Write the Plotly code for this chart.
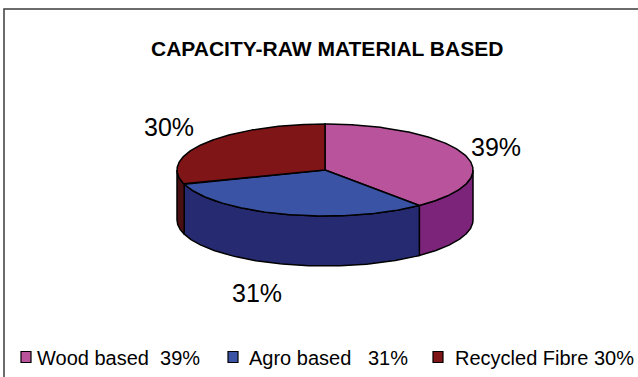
import numpy as np
import plotly.graph_objects as go

# ---------------- data ----------------
TITLE = "CAPACITY-RAW MATERIAL BASED"
CATEGORIES = ["Wood based", "Agro based", "Recycled Fibre"]
SHARES = [39, 31, 30]
SLICE_LABELS = ["39%", "31%", "30%"]
LEGEND_LABELS = ["Wood based\u00a0\u00a039%",
                 "Agro based\u00a0\u00a0\u00a031%",
                 "Recycled Fibre 30%"]

# ---------------- style ----------------
TOP_COLORS = ["#B9539C", "#3A53A4", "#801518"]
SIDE_COLORS = ["#7B2479", "#262A70", "#4A0F12"]
FONT = "Arial, Liberation Sans, sans-serif"
W, H = 638, 377
CX, CY, RX, RY, DEPTH = 325, 170, 148, 46, 50      # pie geometry (px)
LX, LY = 185, 70                                   # label ellipse
LABEL_NUDGE = [(-3, 1), (-16, 6), (-6, -2)]
LEGEND_SQ_X = [21, 228, 433]
LEGEND_TX_X = [35, 247, 453]
LEGEND_Y = 357

def pt(theta_deg, rx=RX, ry=RY):
    t = np.radians(theta_deg)
    return CX + rx * np.sin(t), CY - ry * np.cos(t)

fig = go.Figure()
total = float(sum(SHARES))
bounds = np.concatenate([[0], np.cumsum(SHARES) / total * 360.0])

# side walls (front half only: 90..270 degrees)
for i in range(len(SHARES)):
    a0, a1 = bounds[i], bounds[i + 1]
    s, e = max(a0, 90.0), min(a1, 270.0)
    if e <= s:
        continue
    th = np.linspace(s, e, 120)
    xt, yt = pt(th)
    xs = np.concatenate([xt, xt[::-1], xt[:1]])
    ys = np.concatenate([yt, (yt + DEPTH)[::-1], yt[:1]])
    fig.add_trace(go.Scatter(x=xs, y=ys, mode="lines", fill="toself",
                             fillcolor=SIDE_COLORS[i],
                             line=dict(color="black", width=1.5),
                             hoverinfo="skip", showlegend=False))

# top faces
for i in range(len(SHARES)):
    a0, a1 = bounds[i], bounds[i + 1]
    th = np.linspace(a0, a1, 160)
    xt, yt = pt(th)
    xs = np.concatenate([[CX], xt, [CX]])
    ys = np.concatenate([[CY], yt, [CY]])
    fig.add_trace(go.Scatter(x=xs, y=ys, mode="lines", fill="toself",
                             fillcolor=TOP_COLORS[i],
                             line=dict(color="black", width=1.5),
                             name=CATEGORIES[i],
                             hoverinfo="skip", showlegend=False))

annotations = []
# percentage labels
for i in range(len(SHARES)):
    mid = (bounds[i] + bounds[i + 1]) / 2
    x, y = pt(mid, LX, LY)
    if np.cos(np.radians(mid)) < 0:
        y += DEPTH
    dx, dy = LABEL_NUDGE[i]
    annotations.append(dict(x=x + dx, y=y + dy, xref="x", yref="y",
                            text=SLICE_LABELS[i], showarrow=False,
                            xanchor="center", yanchor="middle",
                            font=dict(family=FONT, size=25, color="black")))

# title
annotations.append(dict(x=326.5, y=48.5, xref="x", yref="y", text="<b>" + TITLE + "</b>",
                        showarrow=False, xanchor="center", yanchor="middle",
                        font=dict(family=FONT, size=21, color="black")))

shapes = [dict(type="rect", xref="x", yref="y", x0=4, y0=9, x1=W + 6, y1=H + 6,
               line=dict(color="#3c3c3c", width=1.5), fillcolor="rgba(0,0,0,0)",
               layer="below")]

# legend
for i in range(len(CATEGORIES)):
    shapes.append(dict(type="rect", xref="x", yref="y",
                       x0=LEGEND_SQ_X[i], x1=LEGEND_SQ_X[i] + 10,
                       y0=LEGEND_Y - 5.5, y1=LEGEND_Y + 5.5,
                       fillcolor=TOP_COLORS[i], line=dict(color="black", width=1.2)))
    annotations.append(dict(x=LEGEND_TX_X[i], y=LEGEND_Y + 1, xref="x", yref="y",
                            text=LEGEND_LABELS[i], showarrow=False,
                            xanchor="left", yanchor="middle",
                            font=dict(family=FONT, size=20, color="black")))

fig.update_layout(
    width=W, height=H,
    margin=dict(l=0, r=0, t=0, b=0),
    paper_bgcolor="white", plot_bgcolor="white",
    showlegend=False,
    xaxis=dict(range=[0, W], visible=False, fixedrange=True),
    yaxis=dict(range=[H, 0], visible=False, fixedrange=True),
    annotations=annotations, shapes=shapes,
)

fig.write_html("out.html", config={"displayModeBar": False})
